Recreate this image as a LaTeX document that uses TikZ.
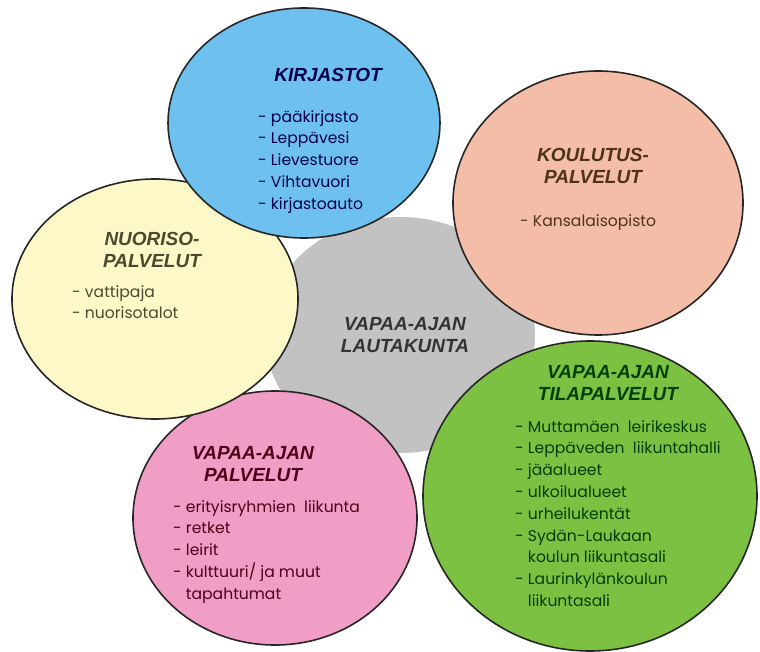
\documentclass[tikz,border=0pt]{standalone}
\usepackage{fontspec}
\setmainfont{Poppins}
\newfontfamily\headfont{Liberation Sans}
\usetikzlibrary{shapes.geometric}

\definecolor{kirjblue}{HTML}{6EC1EE}
\definecolor{koulpeach}{HTML}{F4BDA8}
\definecolor{nuoryellow}{HTML}{FDF8C8}
\definecolor{palvpink}{HTML}{F19EC6}
\definecolor{tilagreen}{HTML}{7DC143}
\definecolor{lautagray}{HTML}{C2C2C2}

\tikzset{
  area/.style={ellipse, draw=black!85, line width=1.6pt, inner sep=0pt},
  heading/.style={font=\headfont\bfseries\itshape\fontsize{19}{22}\selectfont, align=center, inner sep=0pt},
  items/.style={font=\fontsize{15.6}{21.8}\selectfont, align=left, anchor=north west, inner sep=0pt}
}

\begin{document}
\begin{tikzpicture}[x=1pt, y=-1pt]
  \useasboundingbox (0,0) rectangle (760,652);
  % keskusalue
  \node[ellipse, fill=lautagray, minimum width=270pt, minimum height=236pt] (lauta) at (400,335) {};
  % ympyrat
  \node[area, fill=tilagreen, minimum width=334pt, minimum height=310pt] (tila) at (590,496) {};
  \node[area, fill=koulpeach, minimum width=290pt, minimum height=264pt] (koul) at (598,203) {};
  \node[area, fill=palvpink, minimum width=284pt, minimum height=254pt] (palv) at (275,518) {};
  \node[area, fill=nuoryellow, minimum width=286pt, minimum height=240pt] (nuor) at (155,299) {};
  \node[area, fill=kirjblue, minimum width=272pt, minimum height=230pt] (kirj) at (304,123) {};

  % tekstit
  \node[heading, text=black!80] (lautaotsikko) at (405,335) {VAPAA-AJAN\\LAUTAKUNTA};

  \node[heading, text=blue!30!black] (kirjotsikko) at (328,75) {KIRJASTOT};
  \node[items, text=blue!30!black] (kirjlista) at (258,110)
    {- pääkirjasto\\- Leppävesi\\- Lievestuore\\- Vihtavuori\\- kirjastoauto};

  \node[heading, text=brown!40!black] (koulotsikko) at (593,166) {KOULUTUS-\\PALVELUT};
  \node[items, text=brown!40!black] (koullista) at (520,214) {- Kansalaisopisto};

  \node[heading, text=olive!40!black] (nuorotsikko) at (152,250) {NUORISO-\\PALVELUT};
  \node[items, text=olive!40!black] (nuorlista) at (72,285) {- vattipaja\\- nuorisotalot};

  \node[heading, text=purple!40!black] (palvotsikko) at (253,464) {VAPAA-AJAN\\PALVELUT};
  \node[items, text=purple!40!black] (palvlista) at (173,500)
    {- erityisryhmien\ \ liikunta\\- retket\\- leirit\\- kulttuuri/ ja muut\\\phantom{- }tapahtumat};

  \node[heading, text=green!25!black] (tilaotsikko) at (608,383) {VAPAA-AJAN\\TILAPALVELUT};
  \node[items, text=green!25!black] (tilalista) at (515,420)
    {- Muttamäen\ \ leirikeskus\\- Leppäveden\ \ liikuntahalli\\- jääalueet\\- ulkoilualueet\\- urheilukentät\\- Sydän-Laukaan\\\phantom{- }koulun liikuntasali\\- Laurinkylänkoulun\\\phantom{- }liikuntasali};
\end{tikzpicture}
\end{document}
